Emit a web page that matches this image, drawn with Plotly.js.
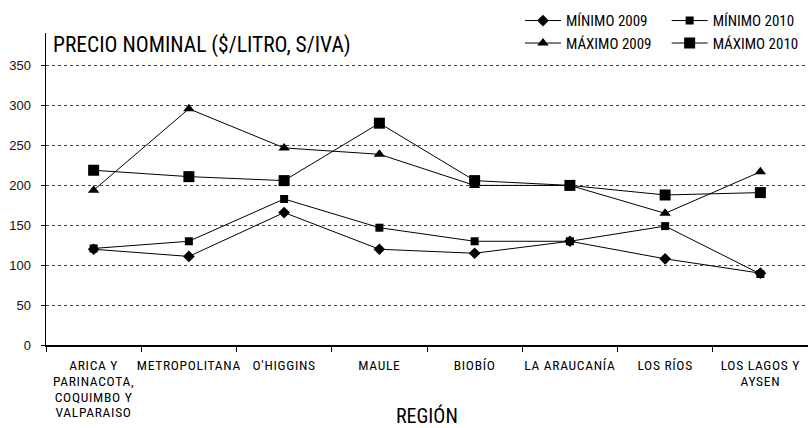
<!DOCTYPE html>
<html>
<head>
<meta charset="utf-8">
<script src="https://cdn.plot.ly/plotly-3.0.1.min.js"></script>
<style>
html,body{margin:0;padding:0;background:#fff;}
#chart{width:808px;height:428px;}
#chart .xtick text{letter-spacing:0.7px;}
</style>
</head>
<body>
<div id="chart"></div>
<script>
var categories = ["ARICA Y PARINACOTA, COQUIMBO Y VALPARAISO", "METROPOLITANA", "O'HIGGINS", "MAULE", "BIOBÍO", "LA ARAUCANÍA", "LOS RÍOS", "LOS LAGOS Y AYSEN"];
var tickLabels = ["ARICA Y<br>PARINACOTA,<br>COQUIMBO Y<br>VALPARAISO", "METROPOLITANA", "O'HIGGINS", "MAULE", "BIOBÍO", "LA ARAUCANÍA", "LOS RÍOS", "LOS LAGOS Y<br>AYSEN"];
var minimo2009 = [120, 111, 166, 120, 115, 130, 108, 90];
var maximo2009 = [194, 296, 247, 239, 200, 200, 165, 217];
var minimo2010 = [121, 130, 183, 147, 130, 130, 149, 89];
var maximo2010 = [219, 211, 206, 278, 206, 200, 188, 191];
var yTicks = [0, 50, 100, 150, 200, 250, 300, 350];

var narrow = "Roboto Condensed, Liberation Sans Narrow, DejaVu Sans Condensed, sans-serif";
var lineStyle = {color: "#000", width: 1};

function tr(name, vals, symbol, size, legend) {
  return {
    type: "scatter", mode: "lines+markers", name: name,
    x: categories, y: vals,
    line: lineStyle,
    marker: {symbol: symbol, size: size, color: "#000"},
    legend: legend, hoverinfo: "skip"
  };
}

var data = [
  tr("MÍNIMO 2009", minimo2009, "diamond", 9, "legend"),
  tr("MÁXIMO 2009", maximo2009, "triangle-up", 10, "legend"),
  tr("MÍNIMO 2010", minimo2010, "square", 8, "legend2"),
  tr("MÁXIMO 2010", maximo2010, "square", 11, "legend2")
];

var legendBase = {
  orientation: "v", yanchor: "top", xanchor: "left",
  font: {family: narrow, size: 15, color: "#000"},
  bgcolor: "rgba(0,0,0,0)", borderwidth: 0, tracegroupgap: 0, itemwidth: 36
};

var layout = {
  width: 808, height: 428,
  margin: {l: 45.5, r: 0, t: 33, b: 83},
  paper_bgcolor: "#fff", plot_bgcolor: "#fff",
  showlegend: true,
  legend: Object.assign({}, legendBase, {x: 0.622, y: 1.092}),
  legend2: Object.assign({}, legendBase, {x: 0.8145, y: 1.092}),
  xaxis: {
    type: "category", categoryorder: "array", categoryarray: categories,
    tickmode: "array", tickvals: categories, ticktext: tickLabels,
    range: [-0.5, 7.5], tickson: "boundaries",
    ticks: "outside", ticklen: 5, tickcolor: "#000", tickwidth: 1,
    showline: true, linecolor: "#000", linewidth: 1.5,
    showgrid: false, zeroline: false, tickangle: 0, ticklabelstandoff: 7,
    tickfont: {family: narrow, size: 13.5, color: "#000"},
    fixedrange: true, automargin: false
  },
  yaxis: {
    range: [0, 391], tickmode: "array", tickvals: yTicks,
    ticks: "outside", ticklen: 4, tickcolor: "#000", tickwidth: 1,
    showline: true, linecolor: "#000", linewidth: 1.5,
    showgrid: true, gridcolor: "#444", griddash: "dot", gridwidth: 1,
    zeroline: false, ticklabelstandoff: 7,
    tickfont: {family: "Liberation Sans, Arial, sans-serif", size: 13, color: "#111"},
    fixedrange: true, automargin: false
  },
  annotations: [
    {text: "PRECIO NOMINAL ($/LITRO, S/IVA)", xref: "paper", yref: "paper",
     x: 0.0072, y: 0.962, xanchor: "left", yanchor: "middle", showarrow: false,
     font: {family: narrow, size: 21.5, color: "#000"}},
    {text: "REGIÓN", xref: "paper", yref: "paper",
     x: 0.5, y: -0.228, xanchor: "center", yanchor: "middle", showarrow: false,
     font: {family: narrow, size: 20, color: "#000"}}
  ]
};

Plotly.newPlot("chart", data, layout, {displayModeBar: false, staticPlot: true}).then(function () {
  // tighten multi-line tick label spacing toward the reference
  document.querySelectorAll(".xtick text tspan.line").forEach(function (t) {
    var dy = t.getAttribute("dy");
    var v = dy ? parseFloat(dy) : 0;
    if (v > 0) t.setAttribute("dy", (v * 1.18 / 1.3) + "em");
  });
});
</script>
</body>
</html>
